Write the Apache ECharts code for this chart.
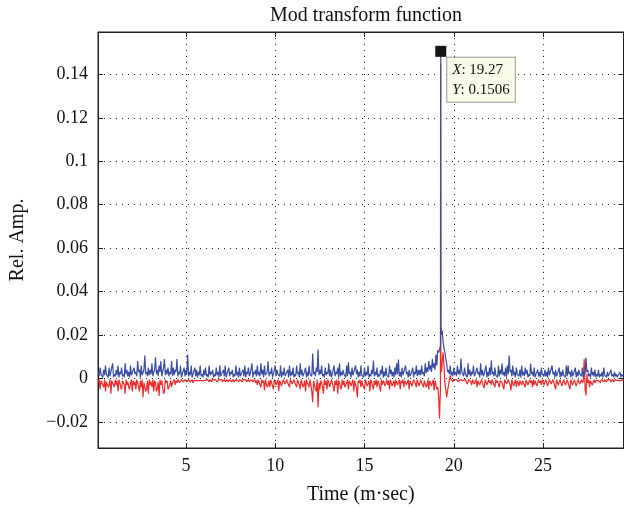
<!DOCTYPE html>
<html>
<head>
<meta charset="utf-8">
<script src="https://cdn.jsdelivr.net/npm/echarts@6/dist/echarts.min.js"></script>
<style>
html,body{margin:0;padding:0;background:#fff;}
#chart{width:624px;height:508px;}
</style>
</head>
<body>
<div id="chart"></div>
<script>
// Sampling grid: 0.1 .. 29.5 ms, step 0.1 ; mid samples at 0.15 .. 29.45
const gridStart = 0.1, gridStep = 0.1, gridCount = 295;
const midStart = 0.15, midCount = 294;

// Values in units of 1e-3
const blueMilli = [
  3,5,2,4,6,2,5,3,7,2,
  4,6,3,5,2,7,4,3,6,2,
  5,3,8,4,6,2,10.6,3,5,4,
  7,3,9.8,4,6,8,3,9,4,5,
  3,8,5,4,9,3,6,2,5,4,
  11,3,6,2,5,4,3,6,2,4,
  5,2,6,3,4,2,5,3,6,2,
  4,6,2,5,3,4,2,6,3,5,
  2,4,6,3,5,2,7,3,4,6,
  3,7,4,6,2,7.9,3,5,2,6,
  4,2,6,3,5,2,4,6,3,5,
  2,6,3,7,4,2,5,3,6,2,
  11.5,3,5,13.3,4,6,2,5,3,7,
  4,2,6,3,5,7,3,4,2,6,
  7.5,3,5,2,6,4,3,6,2,5,
  3,6,2,4,8.3,3,5,2,4,6,
  3,5,2,6,4,3,5,7,8.7,3,
  5,2,6,3,4,2,5,3,6,4,
  4,6,3,7,5,8,6,9,7,11,
  13,12,23,17,12,7,4,6,3,5,
  3,6,4,9.2,3,5,2,7,4,3,
  6,2,5,3,7,4,2,6,3,5,
  8.3,3,5,2,6,4,7,3,5,6,
  10.6,4,6,3,5,2,4,6,3,5,
  4,2,6.9,3,5,2,4,3,5,2,
  4,3,5,2,6,3,4,2,5,3,
  4,2,6,6,3,4,2,5,3,4,
  2,5,3,9.7,4,2,5,3,4,2,
  4,2,3,5,2,3,1.5,4,2,3,
  2,1.5,3,2,1.5
];
const blueMidMilli = [
  1,2,0.5,1.5,2,0.5,1,2.5,0.5,1,
  1.5,0.5,2,1,0.5,2,1,0.5,1.5,1,
  2,1,3,0.5,1.5,4,2,1,1.5,2,
  1,4,2,1,3,1,5,1.5,2,1,
  2,1,1.5,3,1,2,0.5,1.5,1,2,
  1,1.5,0.5,2,1,0.5,1.5,1,0.5,1.5,
  1,0.5,1.5,2,0.5,1,1.5,0.5,1,2,
  1,0.5,1.5,1,2,0.5,1,1.5,0.5,1,
  1.5,1,0.5,2,1,1.5,0.5,2,1,1.5,
  1,2,0.5,1.5,3,1,2,0.5,1.5,1,
  2,1,0.5,1.5,1,2,0.5,1,1.5,0.5,
  1,2,0.5,1.5,1,2.5,0.5,1,2,1,
  2,1,3,1.5,2,1,0.5,1.5,2,1,
  0.5,1.5,1,2,0.5,1,1.5,2,0.5,1,
  2,0.5,1.5,1,2,0.5,1,1.5,0.5,1,
  1.5,0.5,1,2,1,1.5,0.5,1,2,0.5,
  1,1.5,0.5,2,1,0.5,1.5,2,1,0.5,
  1.5,1,2,0.5,1,1.5,0.5,2,1,1.5,
  1.5,2,1,2.5,3,4,3,5,4,6,
  12,15,22,14,9,3,2,1.5,1,2,
  1,2,1.5,3,1,2,0.5,1.5,1,2,
  1,1.5,2,0.5,1.5,1,2,0.5,1,1.5,
  2,1,1.5,0.5,1,2,1.5,1,0.5,2,
  3,1,1.5,0.5,2,1,0.5,1.5,1,2,
  0.5,1,2,1,0.5,1.5,1,0.5,2,1,
  1,0.5,1.5,1,2,0.5,1,1.5,0.5,1,
  1.5,0.5,1,2,0.5,1,1.5,0.5,1,2,
  1,0.5,2,3,1,0.5,1.5,1,0.5,1,
  0.5,1,0.5,1.5,0.5,1,0.5,1,0.5,1,
  0.5,1,0.5,1
];
const redMilli = [
  -2,-5,-1,-4,-6,-2,-3,-7,-1,-4,
  -3,-6,-2,-5,-1,-7,-3,-4,-2,-6,
  -3,-5,-2,-6,-4,-8.6,-2,-5,-7,-3,
  -4,-6,-2,-5,-8,-3,-4,-6,-2,-5,
  -3,-4,-1.5,-3,-2,-1,-2.5,-1,-2,-1,
  -1.5,-0.5,-1,-2,-0.5,-1,-1.5,-0.5,-1,-0.5,
  -1,-0.5,-1.5,-1,-0.5,-1,-0.5,-1.5,-1,-0.5,
  -1,-1.5,-0.5,-1,-0.5,-1,-1.5,-0.5,-1,-0.5,
  -1,-0.5,-1,-1.5,-0.5,-1,-0.5,-1,-2,-3,
  -1,-4,-2,-5.5,-1,-3,-4,-2,-5,-1.5,
  -3,-5.8,-2,-4,-1,-3,-2,-4,-1,-3,
  -2,-4,-1,-5,-2,-3,-6,-2,-4,-3,
  -10.9,-3,-6,-13.3,-5,-2,-7,-3,-5,-2,
  -4,-2,-6,-3,-7,-2,-5,-3,-4,-2,
  -5,-2,-4,-6,-3,-8.7,-2,-4,-3,-5,
  -2,-4,-6,-2,-5,-3,-4,-2,-6,-3,
  -2,-4,-3,-5,-2,-3,-4,-2,-3,-5,
  -2,-4,-1,-3,-5,-2,-3,-1,-4,-2,
  -3,-2,-4,-1,-3,-5,-2,-4,-5.5,-3,
  -4,-18.4,3,12,-2,-8.6,-3,1.4,-1,-0.5,
  -1,-0.5,-1.5,-0.5,-1,-0.5,-1,-2,-0.5,-3,
  -1,-2.5,-4,-1,-3,-2,-4.5,-1,-3,-2,
  -3,-1,-4,-2,-3,-1,-2,-5,-1,-3,
  -2,-5.5,-1,-3,-4,-2,-1,-3,-2,-4,
  -1,-3,-2,-4,-3,-1,-4,-2,-3,-1,
  -3,-2,-4,-1,-3,-2,-5,-1,-3,-2,
  -4,-1,-3,-2,-5,-1,-3,-2,-4,-1,
  -3,-2,9,-7.8,-2,-4,-1,-3,-2,-1.5,
  -1,-2,-0.5,-1.5,-1,-0.5,-1,-1.5,-0.5,-1,
  -0.5,-1,-0.5,-1,-0.5
];
const redMidMilli = [
  -0.5,-1,-3,-0.5,-1.5,-4,-0.5,-1,-3,-0.5,
  -1,-0.5,-4,-1,-3,-0.5,-1.5,-5,-0.5,-1,
  -1.5,-0.5,-4,-1,-0.5,-2,-6,-1,-0.5,-1.5,
  -0.5,-1,-6,-1.5,-0.5,-1,-7,-0.5,-1,-4,
  -1,-2,-0.5,-1,-0.5,-2,-0.5,-1.5,-0.5,-1.5,
  -0.5,-1.5,-0.5,-1,-1.5,-0.5,-1,-1.5,-0.5,-1,
  -1.5,-1,-0.5,-1.5,-1,-0.5,-1.5,-0.5,-1,-1.5,
  -0.5,-1,-1.5,-0.5,-1.5,-0.5,-1,-0.5,-1.5,-1,
  -1.5,-1,-0.5,-1,-1.5,-0.5,-1.5,-0.5,-1,-0.5,
  -3,-0.5,-1,-0.5,-4,-1,-0.5,-3.5,-0.5,-3,
  -0.5,-1,-3.5,-0.5,-2.5,-0.5,-3,-0.5,-2.5,-0.5,
  -3,-0.5,-3,-0.5,-4,-1,-0.5,-3,-0.5,-6,
  -1,-5,-0.5,-2,-1,-4,-0.5,-1,-0.5,-4,
  -0.5,-4,-1,-0.5,-1,-4,-0.5,-1,-3,-0.5,
  -1,-3.5,-0.5,-1,-4,-1,-0.5,-1,-3.5,-0.5,
  -3.5,-1,-0.5,-3.5,-1,-0.5,-1,-4,-0.5,-1,
  -3.5,-0.5,-1,-0.5,-3.5,-1,-0.5,-3,-0.5,-1,
  -0.5,-1,-3,-0.5,-1,-3.5,-0.5,-2.5,-0.5,-3.5,
  -0.5,-3,-1,-4,-0.5,-1,-3.5,-0.5,-1,-5,
  -8,-6,8,6,-5,-6,-1,-0.5,-1.5,-1,
  -0.5,-1.5,-0.5,-1,-1.5,-0.5,-2.5,-0.5,-1.5,-0.5,
  -2.5,-0.5,-1,-3,-0.5,-3.5,-0.5,-3,-0.5,-1,
  -0.5,-3,-0.5,-1,-4,-0.5,-3.5,-0.5,-2.5,-0.5,
  -3,-0.5,-3.5,-0.5,-1,-3.5,-0.5,-1,-3,-0.5,
  -3,-0.5,-1,-0.5,-1,-3.5,-0.5,-1,-0.5,-3,
  -0.5,-3.5,-0.5,-2.5,-0.5,-3.5,-0.5,-3,-0.5,-3.5,
  -0.5,-3,-0.5,-3.5,-0.5,-3,-0.5,-3.5,-0.5,-2.5,
  -0.5,-1,-5,2,-0.5,-1,-3,-0.5,-1,-0.5,
  -1.5,-0.5,-1,-0.5,-1.5,-1,-0.5,-1,-1.5,-0.5,
  -1,-0.5,-1,-0.5
];
// Extra samples around the main peak
const peakTimes = [19.23, 19.26, 19.27, 19.28, 19.32];
const bluePeakMilli = [14, 16, 150.6, 22, 20];
const redPeakMilli = [-10, 145, 20, 5, 4];
const tipX = 19.27, tipY = 0.1506;

const xTicks = [5, 10, 15, 20, 25];
const yTicks = [-0.02, 0, 0.02, 0.04, 0.06, 0.08, 0.1, 0.12, 0.14];

function build(vals, mids, peakVals) {
  const pts = [];
  for (let i = 0; i < gridCount; i++) pts.push([+(gridStart + i * gridStep).toFixed(2), vals[i] / 1000]);
  for (let i = 0; i < midCount; i++) pts.push([+(midStart + i * gridStep).toFixed(2), mids[i] / 1000]);
  for (let j = 0; j < peakTimes.length; j++) pts.push([peakTimes[j], peakVals[j] / 1000]);
  pts.sort((a, b) => a[0] - b[0]);
  return pts;
}
const blueData = build(blueMilli, blueMidMilli, bluePeakMilli);
const redData = build(redMilli, redMidMilli, redPeakMilli);

const FONT = '"Liberation Serif","DejaVu Serif",serif';
const chart = echarts.init(document.getElementById('chart'), null, {renderer: 'canvas'});
const dotted = {show: true, lineStyle: {color: '#222', type: [1, 5], width: 1}};
chart.setOption({
  animation: false,
  backgroundColor: '#fff',
  title: {text: 'Mod transform function', left: 361, top: 1, textAlign: 'center',
    textStyle: {fontFamily: FONT, fontSize: 20, fontWeight: 'normal', color: '#111'}},
  grid: {left: 98, right: 0.5, top: 32, bottom: 60, show: true, borderColor: '#222', borderWidth: 1,
    containLabel: false, outerBoundsMode: 'none'},
  xAxis: [{
    type: 'value', min: 0.08, max: 29.5,
    name: 'Time (m\u00b7sec)', nameLocation: 'middle', nameGap: 37,
    nameTextStyle: {fontFamily: FONT, fontSize: 20, color: '#111'},
    axisLine: {show: true, onZero: false, lineStyle: {color: '#222'}},
    axisTick: {show: true, inside: true, length: 5, customValues: xTicks, lineStyle: {color: '#222'}},
    axisLabel: {customValues: xTicks, fontFamily: FONT, fontSize: 18, color: '#111', margin: 9},
    splitLine: dotted
  }, {
    type: 'value', min: 0.08, max: 29.5, position: 'top',
    axisLine: {show: true, onZero: false, lineStyle: {color: '#222'}},
    axisTick: {show: true, inside: true, length: 5, customValues: xTicks, lineStyle: {color: '#222'}},
    axisLabel: {show: false}, splitLine: {show: false}
  }],
  yAxis: [{
    type: 'value', min: -0.032, max: 0.1595,
    name: 'Rel. Amp.', nameLocation: 'middle', nameGap: 70,
    nameTextStyle: {fontFamily: FONT, fontSize: 20, color: '#111'},
    axisLine: {show: true, onZero: false, lineStyle: {color: '#222'}},
    axisTick: {show: true, inside: true, length: 5, customValues: yTicks, lineStyle: {color: '#222'}},
    axisLabel: {customValues: yTicks, fontFamily: FONT, fontSize: 18, color: '#111', margin: 10,
      formatter: v => (Math.round(v * 1000) / 1000).toString().replace('-', '\u2212')},
    splitLine: dotted
  }, {
    type: 'value', min: -0.032, max: 0.1595, position: 'right',
    axisLine: {show: true, onZero: false, lineStyle: {color: '#222'}},
    axisTick: {show: true, inside: true, length: 5, customValues: yTicks, lineStyle: {color: '#222'}},
    axisLabel: {show: false}, splitLine: {show: false}
  }],
  series: [{
    type: 'line', data: redData, showSymbol: false, sampling: 'none',
    lineStyle: {color: '#ec2b2b', width: 1.2}, itemStyle: {color: '#ec2b2b'}, z: 2
  }, {
    type: 'line', data: blueData, showSymbol: false, sampling: 'none',
    lineStyle: {color: '#3a4ea3', width: 1.2}, itemStyle: {color: '#3a4ea3'}, z: 3,
    markPoint: {
      symbol: 'rect', symbolSize: 11, itemStyle: {color: '#151515'},
      data: [{coord: [tipX, tipY]}],
      label: {
        show: true, position: [12, 12], align: 'left', verticalAlign: 'top',
        formatter: '{i|X}: ' + tipX + '\n{i|Y}: ' + tipY,
        fontFamily: FONT, fontSize: 15, color: '#111', lineHeight: 20,
        backgroundColor: '#fbfbe9', borderColor: '#9a9a9a', borderWidth: 1, padding: [2, 5, 2, 5],
        rich: {i: {fontStyle: 'italic', fontFamily: FONT, fontSize: 15, color: '#111', lineHeight: 20}}
      }
    }
  }]
});
</script>
</body>
</html>
